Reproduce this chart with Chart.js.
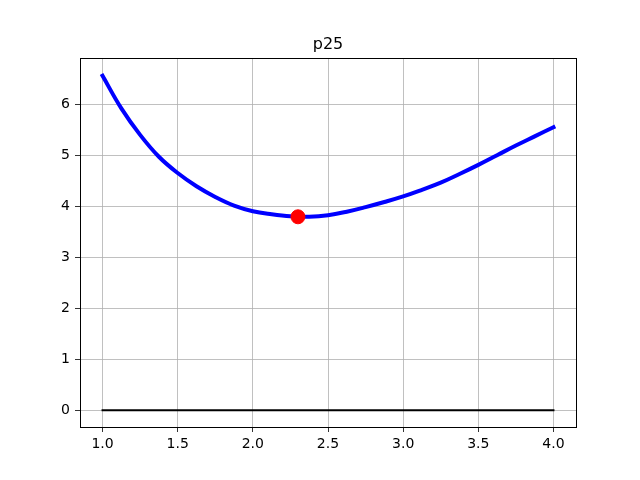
<!DOCTYPE html>
<html>
<head>
<meta charset="utf-8">
<script src="https://cdn.jsdelivr.net/npm/chart.js@4.4.0/dist/chart.umd.min.js"></script>
<style>
  html, body { margin: 0; padding: 0; background: #fff; }
  #wrap { width: 640px; height: 480px; }
</style>
</head>
<body>
<div id="wrap"><canvas id="plot" width="640" height="480"></canvas></div>
<script>
const curveX = [1.0, 1.125, 1.25, 1.375, 1.5, 1.625, 1.75, 1.875, 2.0, 2.125, 2.25, 2.375,
    2.5, 2.625, 2.75, 2.875, 3.0, 3.125, 3.25, 3.375, 3.5, 3.625, 3.75, 3.875, 4.0];
const curveY = [6.57, 5.93, 5.41, 4.98, 4.66, 4.40, 4.19, 4.02, 3.91, 3.85, 3.81, 3.80,
    3.83, 3.90, 3.99, 4.09, 4.20, 4.33, 4.47, 4.64, 4.82, 5.01, 5.20, 5.38, 5.56];
const minPoint = [2.3, 3.8];
const zeroX = [1.0, 4.0];
const zeroY = [0, 0];
const xTicks = [1.0, 1.5, 2.0, 2.5, 3.0, 3.5, 4.0];
const yTicks = [0, 1, 2, 3, 4, 5, 6];
const titleText = 'p25';

const toPoints = (xs, ys) => xs.map((x, i) => ({ x: x, y: ys[i] }));

// matplotlib-like frame around the axes, and the title centred over them
const frame = {
    id: 'frame',
    afterDraw(chart) {
        const a = chart.chartArea;
        const ctx = chart.ctx;
        ctx.save();
        ctx.strokeStyle = '#000';
        ctx.lineWidth = 1;
        ctx.strokeRect(Math.round(a.left) + 0.5, Math.round(a.top) + 0.5,
            Math.round(a.right - a.left), Math.round(a.bottom - a.top));
        ctx.fillStyle = '#000';
        ctx.font = '16px "DejaVu Sans"';
        ctx.textAlign = 'center';
        ctx.textBaseline = 'alphabetic';
        ctx.fillText(titleText, (a.left + a.right) / 2, a.top - 9);
        ctx.restore();
    }
};

const tickFont = { family: 'DejaVu Sans', size: 14 };

new Chart(document.getElementById('plot'), {
    type: 'line',
    data: {
        datasets: [{
            data: toPoints(curveX, curveY),
            borderColor: '#0000ff',
            borderWidth: 4,
            borderCapStyle: 'square',
            pointRadius: 0,
            fill: false,
            tension: 0.4,
            order: 2,
        }, {
            data: toPoints(zeroX, zeroY),
            borderColor: '#000',
            borderWidth: 2,
            borderCapStyle: 'square',
            pointRadius: 0,
            fill: false,
            order: 3,
        }, {
            data: [{ x: minPoint[0], y: minPoint[1] }],
            showLine: false,
            pointRadius: 7,
            pointBackgroundColor: '#ff0000',
            pointBorderColor: '#ff0000',
            order: 1,
        }],
    },
    options: {
        responsive: false,
        animation: false,
        layout: { padding: { right: 64, top: 58 } },
        plugins: {
            legend: { display: false },
            tooltip: { enabled: false },
            title: { display: false },
        },
        scales: {
            x: {
                type: 'linear',
                min: 0.85,
                max: 4.15,
                afterBuildTicks: (scale) => { scale.ticks = xTicks.map(v => ({ value: v })); },
                afterFit: (scale) => { scale.height = 53; },
                ticks: {
                    color: '#000',
                    font: tickFont,
                    padding: 4,
                    maxRotation: 0,
                    callback: (v) => v.toFixed(1),
                },
                grid: { color: '#b0b0b0', lineWidth: 0.8, tickLength: 5, tickColor: '#000' },
                border: { display: false },
            },
            y: {
                type: 'linear',
                min: -0.33,
                max: 6.92,
                afterBuildTicks: (scale) => { scale.ticks = yTicks.map(v => ({ value: v })); },
                afterFit: (scale) => { scale.width = 80; },
                ticks: {
                    color: '#000',
                    font: tickFont,
                    padding: 5,
                    callback: (v) => String(v),
                },
                grid: { color: '#b0b0b0', lineWidth: 0.8, tickLength: 5, tickColor: '#000' },
                border: { display: false },
            },
        },
    },
    plugins: [frame],
});
</script>
</body>
</html>
